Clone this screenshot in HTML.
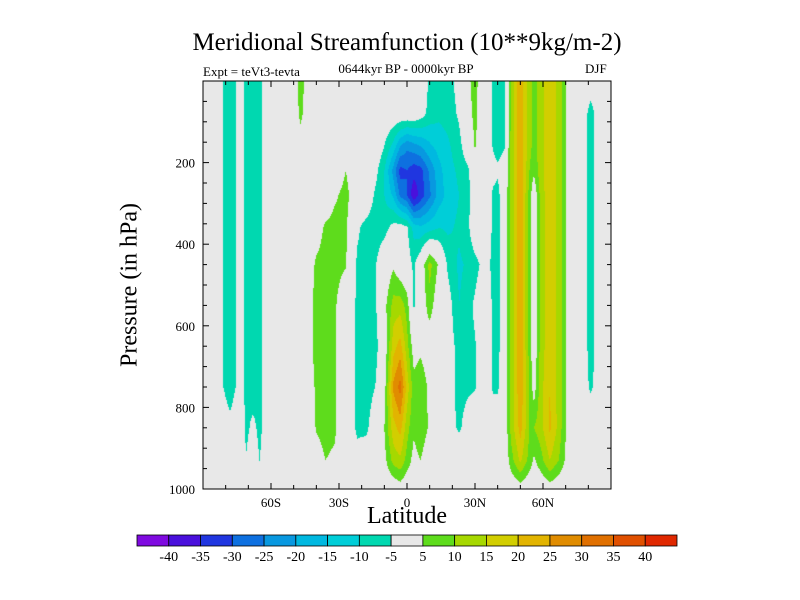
<!DOCTYPE html>
<html><head><meta charset="utf-8">
<style>
html,body{margin:0;padding:0;background:#fff;}
#wrap{position:relative;width:800px;height:600px;overflow:hidden;font-family:"Liberation Serif",serif;color:#000;}
.t{position:absolute;white-space:nowrap;}
</style></head>
<body>
<div id="wrap">
<div class="t" style="left:0;width:814px;text-align:center;top:29px;font-size:25px;">Meridional Streamfunction (10**9kg/m-2)</div>
<div class="t" style="left:0;width:812px;text-align:center;top:61px;font-size:13px;">0644kyr BP - 0000kyr BP</div>
<div class="t" style="left:203px;top:64px;font-size:13px;">Expt = teVt3-tevta</div>
<div class="t" style="left:585px;top:61px;font-size:13px;">DJF</div>
<div class="t" style="left:130px;top:285px;font-size:24px;transform:translate(-50%,-50%) rotate(-90deg);">Pressure (in hPa)</div>
<div class="t" style="left:0;width:814px;text-align:center;top:503px;font-size:24px;">Latitude</div>
<canvas id="field" width="408" height="408" style="position:absolute;left:203px;top:81px;"></canvas>
<svg id="axes" width="800" height="600" style="position:absolute;left:0;top:0;"></svg>
</div>
<script>
const lats=[-90,-84,-78,-74,-71,-68,-65,-61,-55,-50,-47,-44,-40,-36,-32,-27,-22,-18,-14,-10,-6,-3,0,3,6,10,14,18,23,27,30,34,38,40,43,46,50,54,56,59,63,67,71,76,81,86,90];
const pressures=[0,80,160,220,280,360,450,550,650,750,850,930,1000];
const row0=[0,-2,-8,-3,-6,-7,-6,-2,0,2, 7,3,0,0,0,0,0,0,0,0, 0,0,0,0,0,-6,-8,-7,-3,4, 7,0,-5.5,-7,-6,12,24,12,8,13, 19,13,3,0,-2,0,0];
const row80=[0,-2,-8,-3,-6,-7,-6,-2,0,2, 6,3,0,0,0,0,0,0,0,0, 0,0,0,0,-2,-7,-9,-8,-4,3, 6.5,0,-5.5,-7,-6,12,24,12,8,13, 19,13,3,0,-7,-1,0];
const row160=[0,-2,-8,-3,-6,-7,-6,-2,0,0, 3,0,0,0,0,0,0,0,0,-5, -12,-20,-24,-22,-20,-16,-13,-11,-7,0, 5.5,0,-5.5,-7,-5.5,12,24,12,8,13, 19,13,3,0,-7,-1,0];
const row220=[0,-2,-8,-3,-6,-7,-6,-2,0,0, 0,0,0,0,0,5,0,0,-3,-10, -22,-32,-30,-33,-32,-24,-17,-12,-9,-6, 0,0,-3,-4,-2,12,24,10,6,13, 19,13,3,0,-7,-1,0];
const row280=[0,-2,-8,-3,-6,-7,-6,-2,0,0, 0,0,0,0,4,7,0,0,-6,-10, -16,-26,-30,-39,-33,-26,-18,-13,-10,-6, -2,0,-6,-7,0,12,24,8,0,12, 19,13,3,0,-7,-1,0];
const row360=[0,-2,-8,-3,-6,-7,-6,-2,0,0, 0,0,2,6,7,6,-4,-7,-8,-7, -3,-2,-4,-12,-14,-12,-10,-11,-9,-6, 0,0,-6,-7,0,12,24,8,0,12, 19,13,3,0,-7,-1,0];
const row450=[0,-2,-8,-3,-6,-7,-6,-2,0,0, 0,1,6,7,7,5.5,-6,-7,-5.5,0, 4,0,-2,-6,0,12,4,-6,-11,-9, -7,-3,-6,-7,0,12,24,8,0,12, 19,13,3,0,-7,-1,0];
const row550=[0,-2,-8,-3,-6,-7,-6,-2,0,0, 0,2,7,7,6,0,-6,-7,-6,3, 12,13,8,-6,0,8,0,-2,-10,-7, -4,0,-6,-7,0,12,24,8,0,12, 19,13,3,0,-7,-1,0];
const row650=[0,-2,-8,-3,-6,-7,-6,-2,0,0, 0,2,7,7,6,0,-6,-7,-7,0, 18,22,12,2,3,0,0,-2,-7,-6, -5.5,0,-6,-7,0,12,24,8,0,12, 19,13,3,0,-7,-1,0];
const row750=[0,-2,-8,-3,-6,-7,-6,-2,0,0, 0,1,6,7,6,0,-6,-7,-5,2, 26,32,18,7,10,3,0,-2,-7,-6, -5.5,0,-6,-6,0,12,24,10,2,13, 20,13,3,0,-6,-1,0];
const row850=[0,0,-3,0,-6,-4,-6,-2,0,0, 0,0,5.5,7,6,0,-6,-6,-2,5, 18,22,12,6,9,4,0,-2,-6,-2, 0,0,0,0,0,12,22,10,10,13, 21,13,3,0,0,0,0];
const row930=[0,0,0,0,-4.8,-2,-5.2,0,0,0, 0,0,2,5,4,0,-3,-2,0,3, 12,14,8,3,5,0,0,0,0,0, 0,0,0,0,0,8,16,8,4,8, 15,10,2,0,0,0,0];
const row1000=[0,0,0,0,0,0,0,0,0,0, 0,0,0,0,0,0,0,0,0,0, 0,2,0,0,0,0,0,0,0,0, 0,0,0,0,0,0,2,0,0,0, 2,0,0,0,0,0,0];
const field=[row0,row80,row160,row220,row280,row360,row450,row550,row650,row750,row850,row930,row1000];
const levels=[-40,-35,-30,-25,-20,-15,-10,-5,5,10,15,20,25,30,35,40];
const levelLabels=["-40","-35","-30","-25","-20","-15","-10","-5","5","10","15","20","25","30","35","40"];
const colors=["#7F0AE0","#4A10DC","#2036E0","#0E70E0","#0898E0","#00B8E0","#00CED8","#00D8B0","#E8E8E8","#5EDC1C","#A6D800","#D2CE00","#E2B400","#E08C00","#E07000","#E05000","#E02800"];
const xTickVals=[-60,-30,0,30,60];
const xTickLabels=["60S","30S","0","30N","60N"];
const yTickVals=[200,400,600,800,1000];

const PL=203,PT=81,PW=408,PH=408;
function xOf(lat){return PL+(lat+90)/180*PW;}
function yOf(p){return PT+p/1000*PH;}
function seg(arr,v){let i=0;while(i<arr.length-2&&v>arr[i+1])i++;return i;}
function val(lat,p){
  const i=seg(lats,lat),j=seg(pressures,p);
  const tx=Math.max(0,Math.min(1,(lat-lats[i])/(lats[i+1]-lats[i])));
  const ty=Math.max(0,Math.min(1,(p-pressures[j])/(pressures[j+1]-pressures[j])));
  const a=field[j][i],b=field[j][i+1],c=field[j+1][i],d=field[j+1][i+1];
  return (a*(1-tx)+b*tx)*(1-ty)+(c*(1-tx)+d*tx)*ty;
}
function colorOf(v){let k=0;while(k<levels.length&&v>=levels[k])k++;return colors[k];}
function hex(c){return [parseInt(c.substr(1,2),16),parseInt(c.substr(3,2),16),parseInt(c.substr(5,2),16)];}
const cv=document.getElementById('field'),ctx=cv.getContext('2d');
const img=ctx.createImageData(PW,PH);
for(let y=0;y<PH;y++){for(let x=0;x<PW;x++){
  const lat=(x+0.5)/PW*180-90,p=(y+0.5)/PH*1000;
  const rgb=hex(colorOf(val(lat,p)));const o=(y*PW+x)*4;
  img.data[o]=rgb[0];img.data[o+1]=rgb[1];img.data[o+2]=rgb[2];img.data[o+3]=255;}}
ctx.putImageData(img,0,0);

const NS='http://www.w3.org/2000/svg',svg=document.getElementById('axes');
function mk(tag,attrs,name,txt){const e=document.createElementNS(NS,tag);for(const k in attrs)e.setAttribute(k,attrs[k]);


if(txt!==undefined)e.textContent=txt;svg.appendChild(e);return e;}
mk('rect',{x:PL,y:PT,width:PW,height:PH,fill:'none',stroke:'#000','stroke-width':1},'plot-frame');
for(let lat=-80;lat<=80;lat+=10){const x=xOf(lat),L=(lat%30===0)?6:4;
  mk('line',{x1:x,y1:PT+PH,x2:x,y2:PT+PH-L,stroke:'#000'},'x-tick');
  mk('line',{x1:x,y1:PT,x2:x,y2:PT+L,stroke:'#000'},'x-tick-top');}
for(let p=50;p<1000;p+=50){const y=yOf(p),L=(p%200===0)?6:4;
  mk('line',{x1:PL,y1:y,x2:PL+L,y2:y,stroke:'#000'},'y-tick');
  mk('line',{x1:PL+PW,y1:y,x2:PL+PW-L,y2:y,stroke:'#000'},'y-tick-right');}
xTickVals.forEach((v,i)=>mk('text',{x:xOf(v),y:PT+PH+18,'text-anchor':'middle','font-size':13,'font-family':'Liberation Serif, serif'},'x-tick-label',xTickLabels[i]));
yTickVals.forEach(v=>mk('text',{x:PL-8,y:yOf(v)+5,'text-anchor':'end','font-size':13,'font-family':'Liberation Serif, serif'},'y-tick-label',String(v)));
const CL=137,CR=677,CT=535,CH=11,BW=(CR-CL)/colors.length;
colors.forEach((c,k)=>mk('rect',{x:CL+k*BW,y:CT,width:BW,height:CH,fill:c,stroke:'#000','stroke-width':0.8},'colorbar-box'));
levelLabels.forEach((s,k)=>mk('text',{x:CL+(k+1)*BW,y:CT+CH+15,'text-anchor':'middle','font-size':14,'font-family':'Liberation Serif, serif'},'colorbar-label',s));
</script>
</body></html>
